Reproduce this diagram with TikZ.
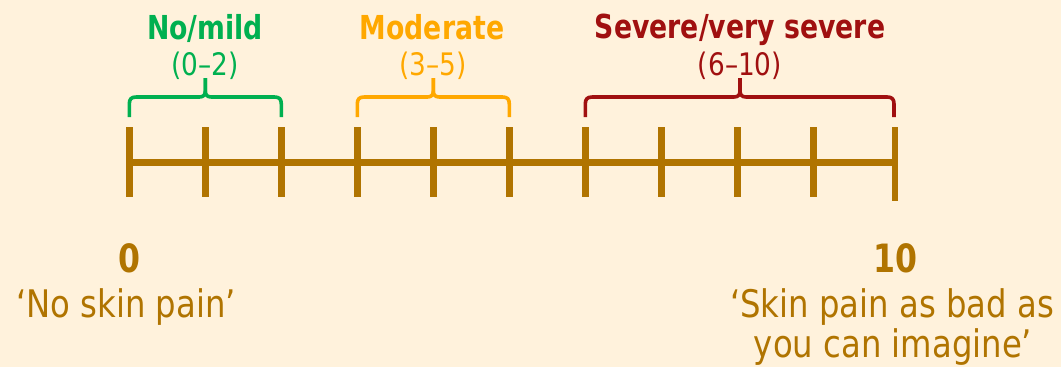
\documentclass[tikz,border=0pt]{standalone}
\usepackage{fontspec}
\setmainfont{DejaVu Sans}[UprightFeatures={FakeStretch=0.85},BoldFeatures={FakeStretch=0.81}]
\definecolor{paper}{RGB}{255,242,220}
\definecolor{rule}{RGB}{176,116,0}
\definecolor{mildc}{RGB}{0,176,80}
\definecolor{moderatec}{RGB}{255,168,0}
\definecolor{severec}{RGB}{160,16,16}

% curly bracket over a band of the scale: left x, centre x, right x, colour
\newcommand\bandbrace[4]{%
  \draw[bandline,#4] (#1,117) -- (#1,104)
    .. controls (#1,99) and (#1+2,97) .. (#1+7,97) -- (#2-6,97)
    .. controls (#2-2,97) and (#2,95) .. (#2,91) -- (#2,78);
  \draw[bandline,#4] (#3,117) -- (#3,104)
    .. controls (#3,99) and (#3-2,97) .. (#3-7,97) -- (#2+6,97)
    .. controls (#2+2,97) and (#2,95) .. (#2,91) -- (#2,78);
}

\begin{document}
\begin{tikzpicture}[x=1pt,y=-1pt,
  axisline/.style={draw=rule,line width=6.4pt},
  tickmark/.style={draw=rule,line width=6.5pt},
  bandline/.style={line width=3.6pt,line join=round},
  bandname/.style={anchor=base,inner sep=0pt,font=\bfseries\fontsize{33}{40}\selectfont},
  bandrange/.style={anchor=base,inner sep=0pt,font=\fontsize{31}{38}\selectfont},
  endvalue/.style={anchor=base,inner sep=0pt,text=rule,font=\bfseries\fontsize{39}{46}\selectfont},
  endtext/.style={anchor=base,inner sep=0pt,text=rule,font=\fontsize{38}{46}\selectfont}]

\fill[paper] (0,0) rectangle (1061,367);
\useasboundingbox (0,0) rectangle (1061,367);

% the 0-10 scale
\foreach \i in {0,...,9}
  \coordinate (t\i) at ({129.3+76*\i},162.5);
\coordinate (t10) at (895,162.5);
\draw[axisline] (t0) -- (t10);
\foreach \i in {0,...,9}
  \draw[tickmark] ([yshift=35.5pt]t\i) -- ([yshift=-34.5pt]t\i);
\draw[tickmark] ([yshift=35.5pt]t10) -- ([yshift=-38.5pt]t10);

% bands
\bandbrace{129.3}{205.3}{281.3}{mildc}
\bandbrace{357.3}{433.3}{509.3}{moderatec}
\bandbrace{585.3}{740}{894}{severec}

\node[bandname,text=mildc] (mildname) at (205,39) {No/mild};
\node[bandrange,text=mildc] (mildrange) at (205,75) {(0–2)};
\node[bandname,text=moderatec] (modname) at (432,39) {Moderate};
\node[bandrange,text=moderatec] (modrange) at (433,75) {(3–5)};
\node[bandname,text=severec] (sevname) at (740,38) {Severe/very severe};
\node[bandrange,text=severec] (sevrange) at (740,75) {(6–10)};

% end points
\node[endvalue] (lowval) at (129,272) {0};
\node[endtext] (lowtext) at (126,317) {‘No skin pain’};
\node[endvalue] (highval) at (895,272) {10};
\node[endtext] (hightext1) at (892,317) {‘Skin pain as bad as};
\node[endtext] (hightext2) at (893,357) {you can imagine’};
\end{tikzpicture}
\end{document}
